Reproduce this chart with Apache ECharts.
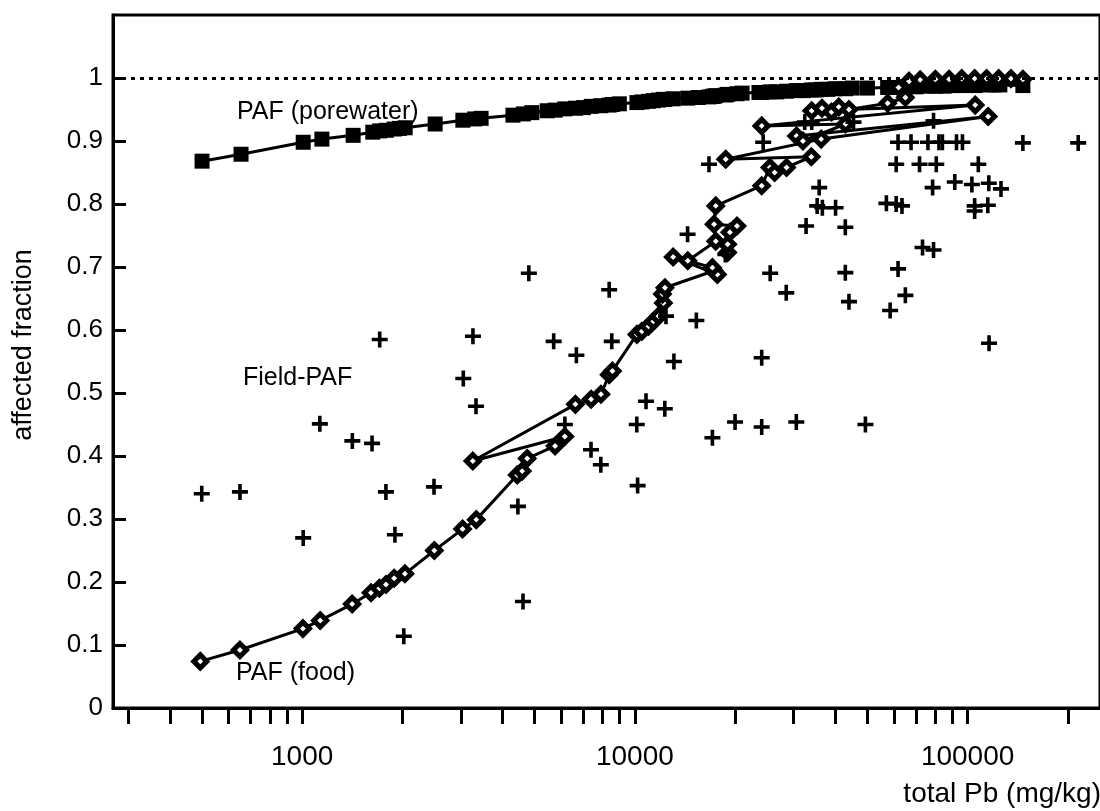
<!DOCTYPE html>
<html><head><meta charset="utf-8">
<script src="https://cdn.jsdelivr.net/npm/echarts@6.0.0/dist/echarts.min.js"></script>
<style>html,body{margin:0;padding:0;background:#fff}#c{width:1100px;height:811px}</style>
</head><body><div id="c"></div>
<script>
// ---- axis ticks / labels ----
const xTickValues = [300,400,500,600,700,800,900,1000,2000,3000,4000,5000,6000,7000,8000,9000,10000,20000,30000,40000,50000,60000,70000,80000,90000,100000,200000];
const xLabelValues = [1000,10000,100000];
const yTickValues = [0,0.1,0.2,0.3,0.4,0.5,0.6,0.7,0.8,0.9,1];
const referenceLevel = 1;

// ---- PAF (porewater) ----
const porewaterPb  = [500,655,1007,1146,1423,1630,1710,1790,1890,1960,2040,2510,3040,3300,3450,4300,4620,4900,5450,5760,6160,6630,7000,7390,7900,8370,8560,8980,10140,10500,10990,11370,11770,12180,12310,13030,14420,15500,16700,17100,17300,17500,18750,19000,20270,21000,23600,24050,25460,26700,28560,30560,32000,33900,35000,36300,38000,40000,42960,45000,50000,57500,61000,65000,70000,76000,80000,85000,90000,96000,105400,115300,120000,125000,146600];
const porewaterPAF = [0.868,0.879,0.898,0.903,0.909,0.914,0.916,0.917,0.919,0.920,0.921,0.927,0.933,0.935,0.936,0.941,0.943,0.945,0.948,0.949,0.951,0.952,0.953,0.955,0.956,0.957,0.958,0.959,0.961,0.962,0.963,0.964,0.965,0.966,0.966,0.967,0.968,0.969,0.970,0.971,0.971,0.972,0.973,0.974,0.975,0.976,0.977,0.977,0.978,0.978,0.979,0.980,0.980,0.981,0.981,0.982,0.982,0.983,0.983,0.984,0.984,0.985,0.985,0.986,0.986,0.987,0.987,0.987,0.988,0.988,0.988,0.989,0.989,0.989,0.988];

// ---- PAF (food) ----
const foodPb  = [494,650,1005,1133,1413,1610,1706,1786,1890,2036,2496,3034,3336,4430,4583,4745,5755,6155,3257,6625,7385,7906,8370,8560,10140,10500,10990,11370,11770,12180,12100,12310,17300,17700,13030,17100,14420,17500,19000,19000,19300,20270,17300,17500,24050,25460,26300,28560,33900,18750,36300,115300,30600,32000,42960,24050,105400,34000,36500,39000,41000,44000,57500,65000,62000,66700,72000,80000,88000,96000,105000,114000,124000,135000,146600];
const foodPAF = [0.074,0.092,0.126,0.139,0.165,0.183,0.190,0.196,0.206,0.213,0.250,0.284,0.299,0.370,0.376,0.396,0.416,0.431,0.392,0.482,0.490,0.498,0.529,0.535,0.593,0.598,0.606,0.614,0.622,0.643,0.657,0.667,0.694,0.688,0.716,0.699,0.710,0.741,0.723,0.736,0.755,0.765,0.768,0.797,0.829,0.858,0.850,0.858,0.875,0.871,0.903,0.939,0.908,0.900,0.927,0.924,0.957,0.948,0.952,0.946,0.954,0.950,0.960,0.969,0.985,0.995,0.997,0.998,0.998,0.999,0.999,0.999,0.999,0.999,0.998];

// ---- Field-PAF ----
const fieldPb  = [499,650,1007,1130,1415,1622,1710,1785,1900,2020,2490,3050,3260,3330,4450,4610,4800,5700,6160,6670,7380,7900,8370,8520,10130,10190,10800,12300,12400,13100,14400,15300,16700,17100,18700,20000,24050,24050,24300,25500,28500,30560,32400,32700,34000,35300,35800,36600,40100,42900,42900,44000,45400,49300,57000,58500,61000,61800,61800,61000,63500,65000,67600,71700,73200,76000,78500,79000,79000,80500,82000,84000,91500,92600,96500,103000,105000,105000,107700,115000,115800,116000,126000,146600,215000];
const fieldPAF = [0.340,0.343,0.270,0.451,0.424,0.420,0.585,0.343,0.275,0.114,0.351,0.523,0.590,0.479,0.320,0.169,0.690,0.582,0.450,0.560,0.410,0.386,0.664,0.582,0.450,0.353,0.487,0.475,0.622,0.550,0.752,0.615,0.863,0.429,0.720,0.454,0.446,0.556,0.898,0.690,0.659,0.454,0.930,0.765,0.930,0.797,0.826,0.794,0.794,0.763,0.691,0.645,0.930,0.450,0.801,0.631,0.863,0.898,0.697,0.800,0.797,0.655,0.898,0.863,0.731,0.898,0.826,0.727,0.932,0.863,0.898,0.898,0.835,0.898,0.898,0.831,0.797,0.789,0.863,0.798,0.833,0.579,0.824,0.897,0.897];

const zip = (xs, ys) => xs.map((x, i) => [x, ys[i]]);
const FONT = '"Liberation Sans", Arial, Helvetica, sans-serif';
const crossPath = 'path://M6.2,0H9.8V6.2H16V9.8H9.8V16H6.2V9.8H0V6.2H6.2Z';

const chart = echarts.init(document.getElementById('c'), null, {renderer: 'canvas'});
chart.setOption({
  animation: false,
  backgroundColor: '#fff',
  grid: {left: 113, top: 15, bottom: 103, right: -15.5, show: true, borderColor: '#000', borderWidth: 3, containLabel: false},
  xAxis: {
    type: 'log', logBase: 10, min: 270, max: 250000,
    axisLine: {show: true, lineStyle: {color: '#000', width: 3}},
    axisTick: {show: true, inside: false, length: 16, lineStyle: {color: '#000', width: 3}, customValues: xTickValues},
    axisLabel: {show: true, customValues: xLabelValues, margin: 35, color: '#000', fontSize: 28, fontFamily: FONT,
      formatter: v => String(Math.round(v))},
    splitLine: {show: false}, minorTick: {show: false}
  },
  yAxis: {
    type: 'value', min: 0, max: 1.1,
    axisLine: {show: true, lineStyle: {color: '#000', width: 3}},
    axisTick: {show: true, inside: true, length: 13, lineStyle: {color: '#000', width: 3}, customValues: yTickValues},
    axisLabel: {show: true, customValues: yTickValues, margin: 10, color: '#000', fontSize: 26, fontFamily: FONT},
    splitLine: {show: false}
  },
  graphic: [
    {type: 'text', x: 24, y: 345, rotation: Math.PI / 2, style: {text: 'affected fraction', fontSize: 27, fontFamily: FONT, fill: '#000', align: 'center', verticalAlign: 'middle'}},
    {type: 'text', x: 1101, y: 794, style: {text: 'total Pb (mg/kg)', fontSize: 28, fontFamily: FONT, fill: '#000', align: 'right', verticalAlign: 'middle'}},
    {type: 'text', x: 237, y: 112, style: {text: 'PAF (porewater)', fontSize: 25, fontFamily: FONT, fill: '#000', align: 'left', verticalAlign: 'middle'}},
    {type: 'text', x: 243, y: 378, style: {text: 'Field-PAF', fontSize: 25, fontFamily: FONT, fill: '#000', align: 'left', verticalAlign: 'middle'}},
    {type: 'text', x: 236, y: 673, style: {text: 'PAF (food)', fontSize: 25, fontFamily: FONT, fill: '#000', align: 'left', verticalAlign: 'middle'}}
  ],
  series: [
    {
      name: 'PAF (porewater)', type: 'line', data: zip(porewaterPb, porewaterPAF),
      symbol: 'rect', symbolSize: 15, showSymbol: true, showAllSymbol: true,
      itemStyle: {color: '#000', opacity: 1}, lineStyle: {color: '#000', width: 3},
      emphasis: {disabled: true}, z: 3,
      markLine: {silent: true, symbol: 'none', label: {show: false},
        lineStyle: {color: '#000', width: 3, type: [4, 5]}, data: [{yAxis: referenceLevel}]}
    },
    {
      name: 'PAF (food)', type: 'line', data: zip(foodPb, foodPAF),
      symbol: 'diamond', symbolSize: 13, showSymbol: true, showAllSymbol: true,
      itemStyle: {color: '#fff', borderColor: '#000', borderWidth: 5, opacity: 1}, lineStyle: {color: '#000', width: 3},
      emphasis: {disabled: true}, z: 4
    },
    {
      name: 'Field-PAF', type: 'scatter', data: zip(fieldPb, fieldPAF),
      symbol: crossPath, symbolSize: 16, itemStyle: {color: '#000', opacity: 1},
      emphasis: {disabled: true}, z: 5
    }
  ]
});
</script></body></html>
